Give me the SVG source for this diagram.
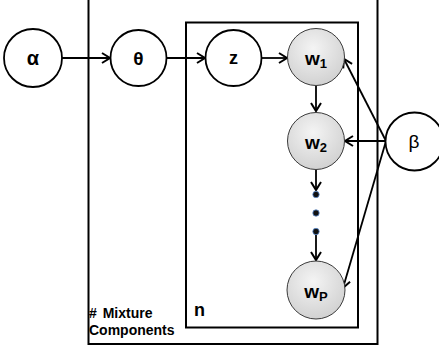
<svg xmlns="http://www.w3.org/2000/svg" width="439" height="354" viewBox="0 0 439 354">
<defs>
<radialGradient id="g" cx="0.45" cy="0.35" r="0.7">
<stop offset="0" stop-color="#f4f4f4"/>
<stop offset="1" stop-color="#cfcfcf"/>
</radialGradient>
<marker id="arr" markerWidth="12" markerHeight="12" viewBox="0 0 12 12" refX="10" refY="6" orient="auto" markerUnits="userSpaceOnUse">
<path d="M2,1 L10,6 L2,11" fill="none" stroke="#000" stroke-width="2"/>
</marker>
</defs>
<style>
.plate{fill:none;stroke:#000;stroke-width:2}
.obs{fill:#fff;stroke:#000;stroke-width:1.8}
.hid{fill:url(#g);stroke:#3a3a3a;stroke-width:1}
.lbl{font-family:"Liberation Sans",Arial,sans-serif;font-weight:bold;fill:#000}
.edge{stroke:#000;stroke-width:1.8;fill:none;marker-end:url(#arr)}
.dot{fill:#111;stroke:#5b8bd0;stroke-width:0.8}
</style>
<rect width="439" height="354" fill="#fff"/>
<g id="plate-mixture">
<rect class="plate" x="88.5" y="-10" width="289" height="354"/>
<text class="lbl" x="89" y="318" font-size="14" word-spacing="2"># Mixture</text>
<text class="lbl" x="89" y="335" font-size="14">Components</text>
</g>
<g id="plate-n">
<rect class="plate" x="186" y="22.5" width="172" height="305"/>
<text class="lbl" x="194" y="316" font-size="18">n</text>
</g>
<g id="connectors">
<line class="edge" x1="62" y1="58" x2="110" y2="58"/>
<line class="edge" x1="167" y1="58" x2="205" y2="58"/>
<line class="edge" x1="262" y1="58" x2="287" y2="58"/>
<line class="edge" x1="316" y1="86" x2="316" y2="111"/>
<line class="edge" x1="316" y1="170" x2="316" y2="190"/>
<line class="edge" x1="316" y1="233" x2="316" y2="260"/>
<line class="edge" x1="386" y1="141" x2="344" y2="59"/>
<line class="edge" x1="386" y1="141" x2="345" y2="141"/>
<line class="edge" x1="386" y1="141" x2="343" y2="288"/>
</g>
<g id="node-alpha">
<circle class="obs" cx="33" cy="58" r="29"/>
<text class="lbl" x="33" y="65" font-size="20" text-anchor="middle">α</text>
</g>
<g id="node-theta">
<circle class="obs" cx="138.5" cy="58" r="28"/>
<text class="lbl" x="138.5" y="65" font-size="19" text-anchor="middle">θ</text>
</g>
<g id="node-z">
<circle class="obs" cx="233.5" cy="58" r="28"/>
<text class="lbl" x="233.5" y="64" font-size="18" text-anchor="middle">z</text>
</g>
<g id="node-w1">
<circle class="hid" cx="316" cy="57" r="28.5"/>
<text class="lbl" x="316" y="65" font-size="19" text-anchor="middle">w<tspan font-size="13" dy="3">1</tspan></text>
</g>
<g id="node-w2">
<circle class="hid" cx="316" cy="141" r="28.5"/>
<text class="lbl" x="316" y="149" font-size="19" text-anchor="middle">w<tspan font-size="13" dy="3">2</tspan></text>
</g>
<g id="dots">
<circle class="dot" cx="316" cy="194.5" r="3.2"/>
<circle class="dot" cx="316" cy="213" r="3.2"/>
<circle class="dot" cx="316" cy="231.5" r="3.2"/>
</g>
<g id="node-wP">
<circle class="hid" cx="316" cy="290" r="29"/>
<text class="lbl" x="316" y="298" font-size="19" text-anchor="middle">w<tspan font-size="13" dy="3">P</tspan></text>
</g>
<g id="node-beta">
<circle class="obs" cx="414.5" cy="141.5" r="29"/>
<text x="414" y="148" font-size="19" text-anchor="middle" font-family="'Liberation Sans',Arial,sans-serif">β</text>
</g>
</svg>
